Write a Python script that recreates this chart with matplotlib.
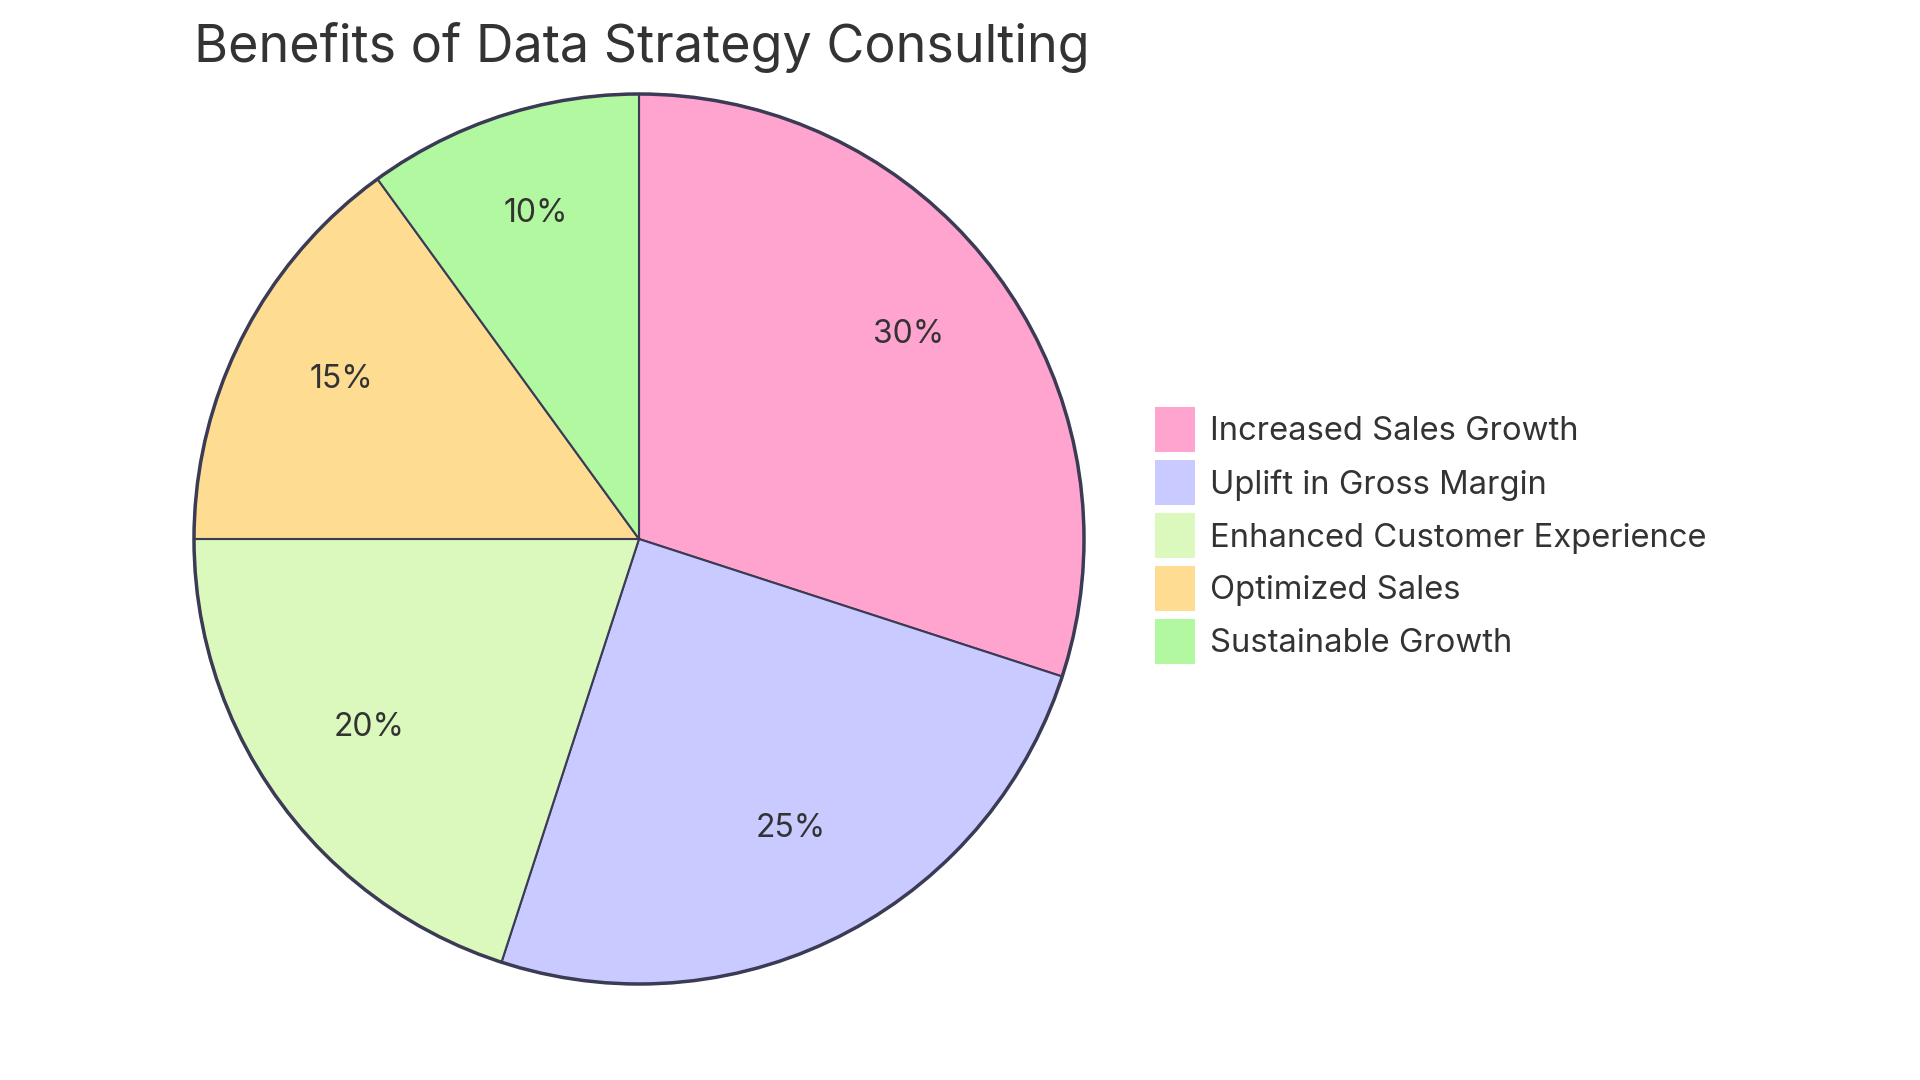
import matplotlib
matplotlib.use("Agg")
import matplotlib.pyplot as plt
from matplotlib.patches import Rectangle

plt.rcParams["font.family"] = ["Inter", "DejaVu Sans"]

labels = [
    "Increased Sales Growth",
    "Uplift in Gross Margin",
    "Enhanced Customer Experience",
    "Optimized Sales",
    "Sustainable Growth",
]
values = [30, 25, 20, 15, 10]
colors = ["#FFA3CF", "#C9CAFF", "#DBF9BC", "#FEDD92", "#B2F8A0"]

EDGE = "#3B3B55"
TEXT = "#333333"

fig = plt.figure(figsize=(19.2, 10.8), dpi=100)

# pie centre at (639, 539) px, radius ~445 px
cx, cy, r = 639 / 1920, 1 - 539 / 1080, 445
ax = fig.add_axes([cx - r / 1920, cy - r / 1080, 2 * r / 1920, 2 * r / 1080])
wedges, _, autotexts = ax.pie(
    values,
    colors=colors,
    startangle=90,
    counterclock=False,
    autopct="%1.0f%%",
    pctdistance=0.75,
    radius=1,
    wedgeprops={"edgecolor": EDGE, "linewidth": 1.5, "clip_on": False},
    textprops={"fontsize": 23, "color": TEXT},
)
# labels sit a little higher in the reference
for t in autotexts:
    x, y = t.get_position()
    t.set_position((x, y + 8 / r))

outline = plt.Circle((0, 0), 1, fill=False, edgecolor=EDGE, linewidth=2.5,
                     clip_on=False)
ax.add_patch(outline)
ax.set_xlim(-1, 1)
ax.set_ylim(-1, 1)
ax.set_aspect("equal")
ax.axis("off")

fig.text(194 / 1920, 1 - 62 / 1080, "Benefits of Data Strategy Consulting",
         fontsize=37.5, color=TEXT, ha="left", va="baseline")

# legend drawn by hand to match the square swatches
for i, (label, color) in enumerate(zip(labels, colors)):
    yc = 432 + i * 53
    fig.patches.append(Rectangle(
        (1155 / 1920, 1 - (yc + 20) / 1080), 40 / 1920, 45 / 1080,
        transform=fig.transFigure, facecolor=color, edgecolor="none"))
    fig.text(1210 / 1920, 1 - yc / 1080, label, fontsize=23.6, color=TEXT,
             ha="left", va="center")

fig.savefig("out.png", dpi=100)
